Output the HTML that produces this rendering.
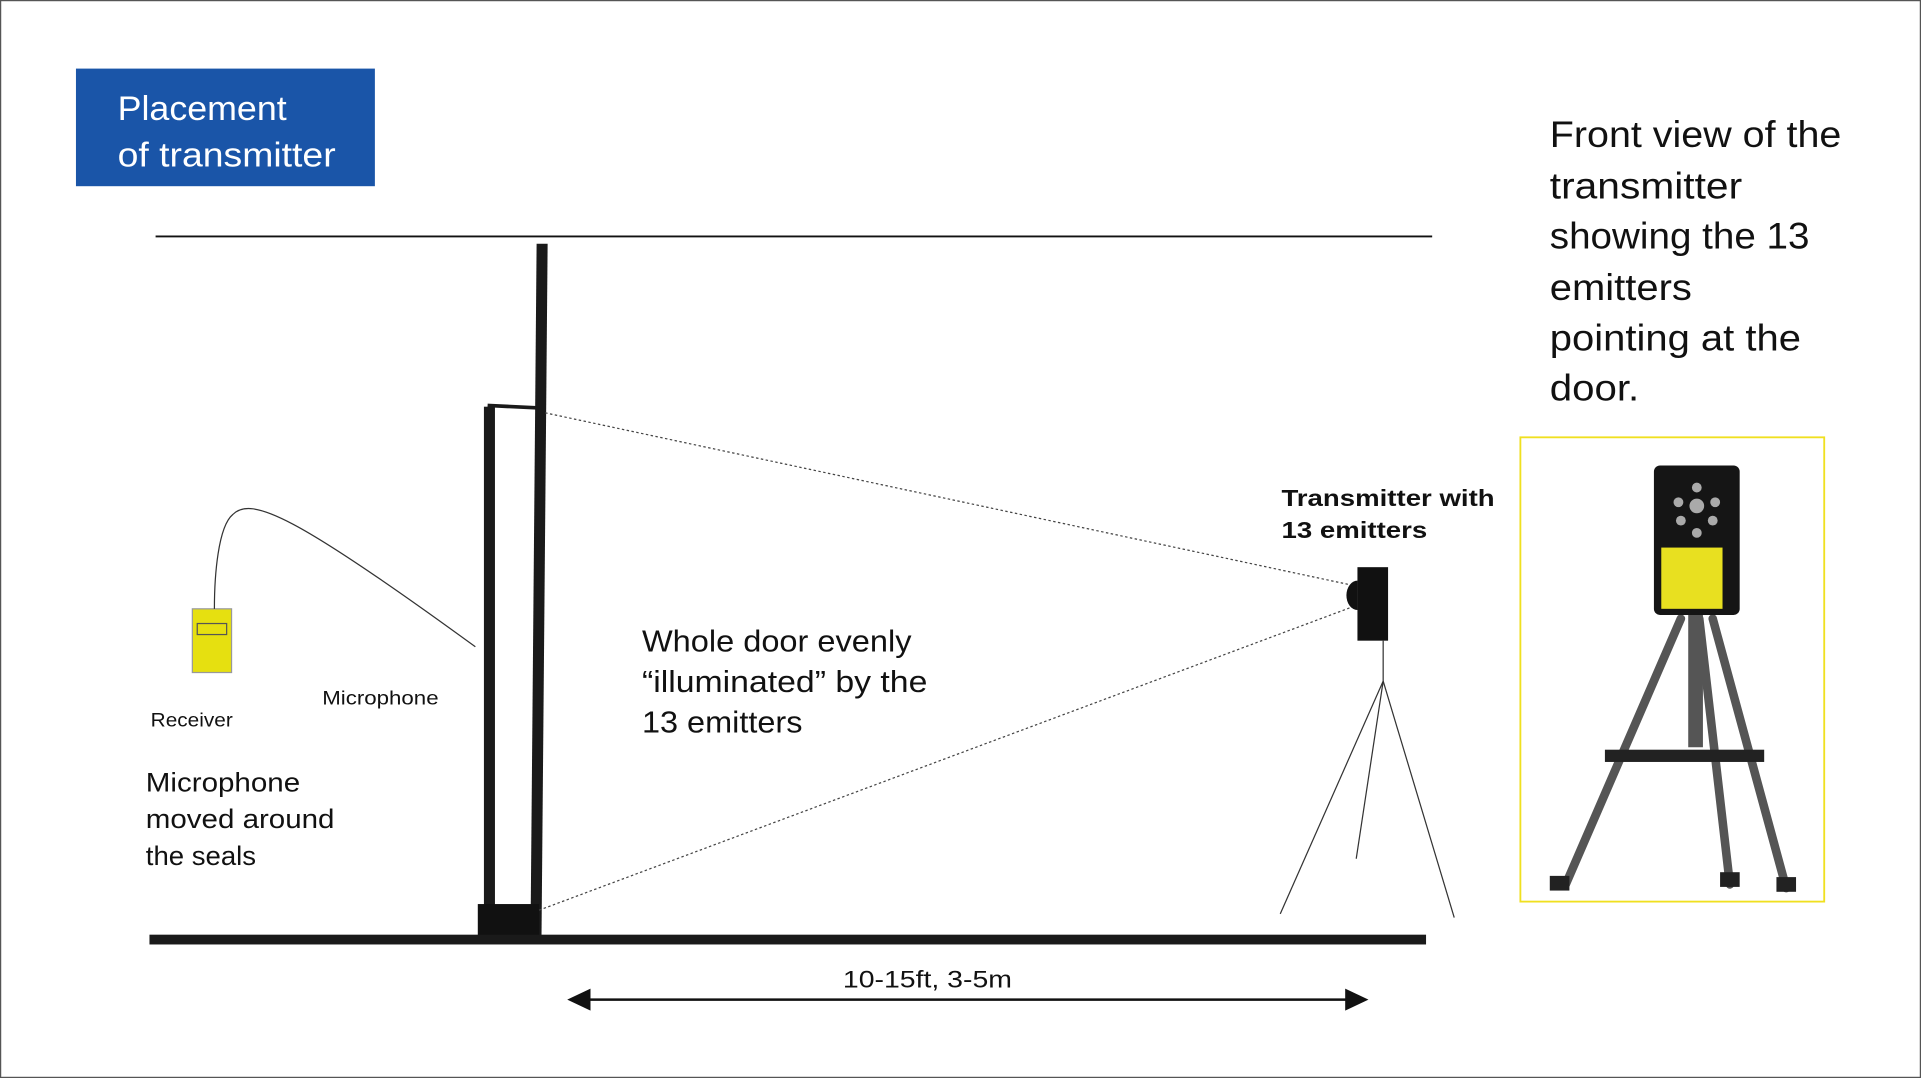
<!DOCTYPE html>
<html><head><meta charset="utf-8"><style>
html,body{margin:0;padding:0;background:#fff;}
svg{display:block;}
text{font-family:"Liberation Sans","DejaVu Sans",sans-serif;}
</style></head><body>
<svg width="1921" height="1078" viewBox="0 0 1568 880" preserveAspectRatio="none" xmlns="http://www.w3.org/2000/svg">
<rect x="0.5" y="0.5" width="1567" height="879" fill="#fff" stroke="#555" stroke-width="1"/>
<rect x="62" y="56" width="244" height="96" fill="#1a55a8"/>
<text x="96" y="98" font-size="28" fill="#fff" textLength="138" lengthAdjust="spacingAndGlyphs">Placement</text>
<text x="96" y="136" font-size="28" fill="#fff" textLength="178" lengthAdjust="spacingAndGlyphs">of transmitter</text>
<line x1="127" y1="193" x2="1169" y2="193" stroke="#111" stroke-width="1.5"/>
<polygon points="438,199 447,199 442,765 433,765" fill="#1a1a1a"/>
<rect x="395" y="332" width="9" height="433" fill="#1a1a1a"/>
<line x1="398" y1="331" x2="440" y2="333" stroke="#1a1a1a" stroke-width="3"/>
<rect x="390" y="738" width="50" height="27" fill="#111"/>
<rect x="122" y="763" width="1042" height="8" fill="#1a1a1a"/>
<line x1="445" y1="337" x2="1105" y2="478" stroke="#444" stroke-width="1" stroke-dasharray="2,2"/>
<line x1="440" y1="743" x2="1105" y2="495" stroke="#444" stroke-width="1" stroke-dasharray="2,2"/>
<rect x="1108" y="463" width="25" height="60" fill="#111"/>
<path d="M1108,474 A9,12 0 0 0 1108,498 Z" fill="#111"/>
<line x1="1129" y1="523" x2="1129" y2="556" stroke="#333" stroke-width="1"/>
<line x1="1129" y1="556" x2="1045" y2="746" stroke="#333" stroke-width="1"/>
<line x1="1129" y1="556" x2="1107" y2="701" stroke="#333" stroke-width="1"/>
<line x1="1129" y1="556" x2="1187" y2="749" stroke="#333" stroke-width="1"/>
<rect x="157" y="497" width="32" height="52" fill="#e6e010" stroke="#999" stroke-width="1"/>
<rect x="161" y="509" width="24" height="9" fill="none" stroke="#555" stroke-width="1"/>
<path d="M175,497 C175,470 178,430 190,420 C205,405 240,420 388,528" fill="none" stroke="#333" stroke-width="1"/>
<text x="123" y="593" font-size="16" fill="#111" textLength="67" lengthAdjust="spacingAndGlyphs">Receiver</text>
<text x="263" y="575" font-size="16" fill="#111" textLength="95" lengthAdjust="spacingAndGlyphs">Microphone</text>
<g font-size="22" fill="#111">
<text x="119" y="646" textLength="126" lengthAdjust="spacingAndGlyphs">Microphone</text>
<text x="119" y="676" textLength="154" lengthAdjust="spacingAndGlyphs">moved around</text>
<text x="119" y="706" textLength="90" lengthAdjust="spacingAndGlyphs">the seals</text>
</g>
<g font-size="25" fill="#111">
<text x="524" y="532" textLength="220" lengthAdjust="spacingAndGlyphs">Whole door evenly</text>
<text x="524" y="565" textLength="233" lengthAdjust="spacingAndGlyphs">“illuminated” by the</text>
<text x="524" y="598" textLength="131" lengthAdjust="spacingAndGlyphs">13 emitters</text>
</g>
<g font-size="19" font-weight="bold" fill="#111">
<text x="1046" y="413" textLength="174" lengthAdjust="spacingAndGlyphs">Transmitter with</text>
<text x="1046" y="439" textLength="119" lengthAdjust="spacingAndGlyphs">13 emitters</text>
</g>
<text x="688" y="806" font-size="20" fill="#111" textLength="138" lengthAdjust="spacingAndGlyphs">10-15ft, 3-5m</text>
<line x1="478" y1="816" x2="1102" y2="816" stroke="#111" stroke-width="2"/>
<polygon points="463,816 482,807 482,825" fill="#111"/>
<polygon points="1117,816 1098,807 1098,825" fill="#111"/>
<g font-size="30" fill="#111">
<text x="1265" y="120" textLength="238" lengthAdjust="spacingAndGlyphs">Front view of the</text>
<text x="1265" y="162" textLength="157" lengthAdjust="spacingAndGlyphs">transmitter</text>
<text x="1265" y="203" textLength="212" lengthAdjust="spacingAndGlyphs">showing the 13</text>
<text x="1265" y="245" textLength="116" lengthAdjust="spacingAndGlyphs">emitters</text>
<text x="1265" y="286" textLength="205" lengthAdjust="spacingAndGlyphs">pointing at the</text>
<text x="1265" y="327" textLength="73" lengthAdjust="spacingAndGlyphs">door.</text>
</g>
<rect x="1241" y="357" width="248" height="379" fill="#fff" stroke="#f0e020" stroke-width="1.5"/>
<g stroke="#555" stroke-width="7" stroke-linecap="round">
<line x1="1372" y1="505" x2="1278" y2="722"/>
<line x1="1398" y1="505" x2="1458" y2="725"/>
<line x1="1387" y1="505" x2="1412" y2="722"/>
</g>
<rect x="1378" y="500" width="12" height="110" fill="#555"/>
<rect x="1310" y="612" width="130" height="10" fill="#222"/>
<rect x="1350" y="380" width="70" height="122" rx="5" fill="#151515"/>
<rect x="1356" y="447" width="50" height="50" fill="#e8e020"/>
<g fill="#aaa"><circle cx="1385" cy="413" r="6"/><circle cx="1370" cy="410" r="4"/><circle cx="1400" cy="410" r="4"/><circle cx="1372" cy="425" r="4"/><circle cx="1398" cy="425" r="4"/><circle cx="1385" cy="435" r="4"/><circle cx="1385" cy="398" r="4"/></g>
<rect x="1265" y="715" width="16" height="12" fill="#222"/>
<rect x="1404" y="712" width="16" height="12" fill="#222"/>
<rect x="1450" y="716" width="16" height="12" fill="#222"/>
</svg>
</body></html>
